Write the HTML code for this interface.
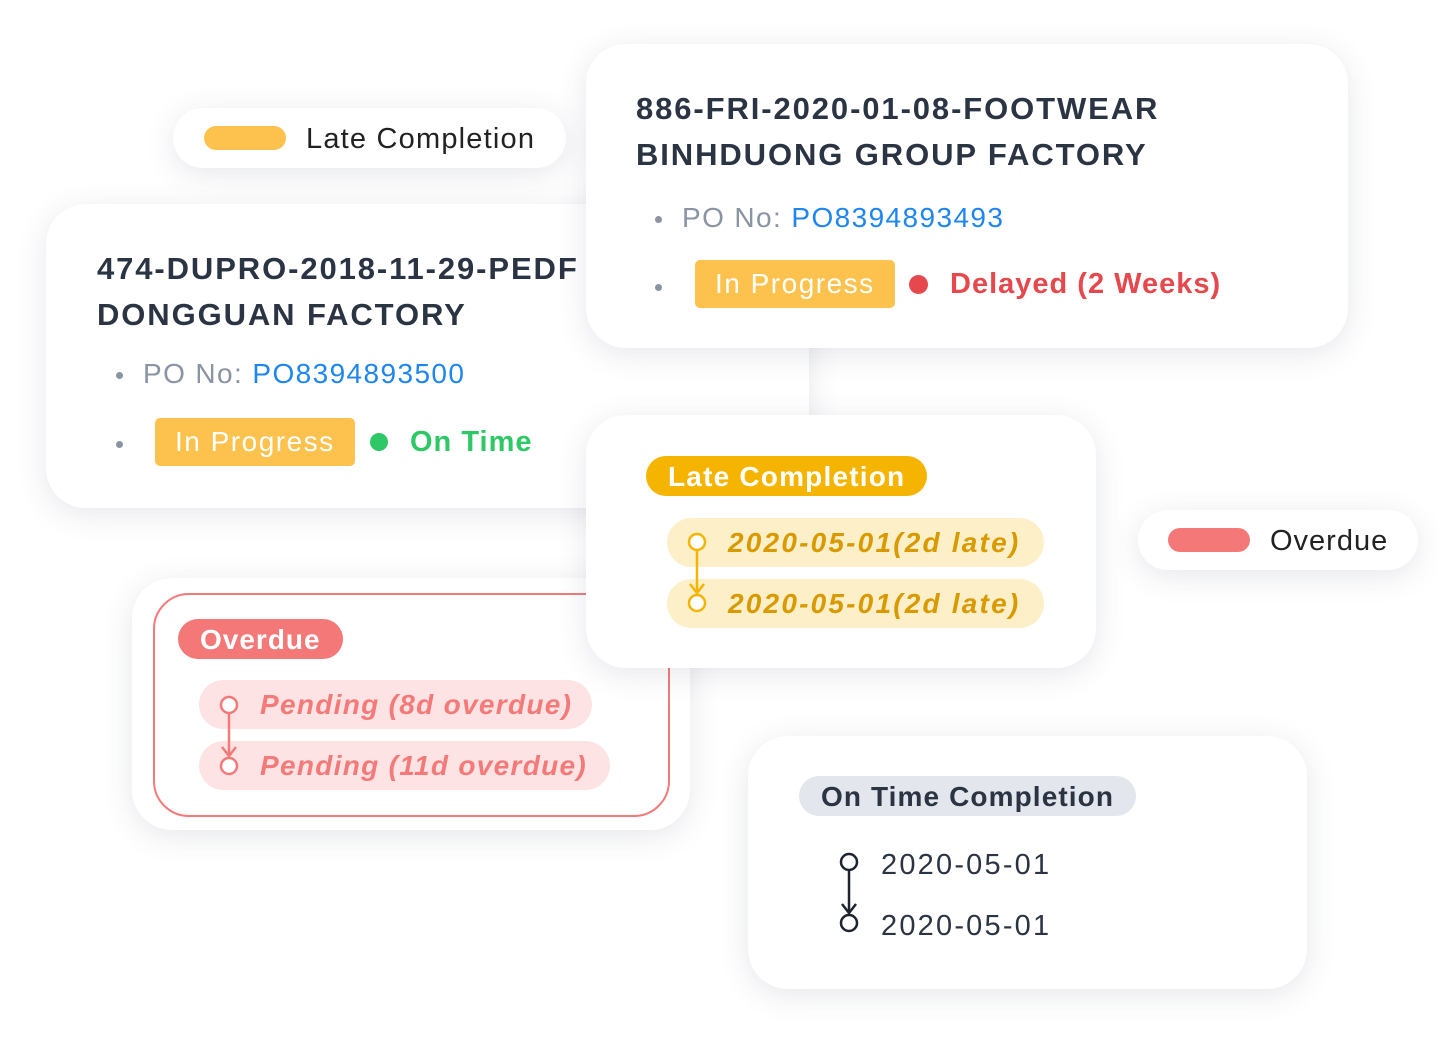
<!DOCTYPE html>
<html><head><style>
body{margin:0;width:1440px;height:1049px;background:#fff;position:relative;overflow:hidden;font-family:"Liberation Sans",sans-serif}
.c{position:absolute;background:#fff;border-radius:40px;box-shadow:0 6px 30px rgba(60,70,100,.13)}
.a{position:absolute;white-space:nowrap}
.t{font-size:31px;font-weight:bold;color:#2b3443;line-height:46px;letter-spacing:1.9px}
.po{font-size:28px;color:#8a94a3;letter-spacing:1.4px}
.po b{font-weight:normal;color:#1f86f0}
.dot{position:absolute;width:7px;height:7px;border-radius:50%;background:#8a94a3}
.ip{position:absolute;background:#fdc24e;color:#fff;font-size:28px;border-radius:5px;height:48px;line-height:48px;padding:0 20px;letter-spacing:1.5px}
.pill{position:absolute;border-radius:25px;height:49px;line-height:49px;font-size:28px;font-style:italic;font-weight:bold;letter-spacing:2.2px}
</style></head><body>

<div class="c" style="left:173px;top:108px;width:393px;height:60px;border-radius:30px"></div>
<div style="position:absolute;left:204px;top:126px;width:82px;height:24px;border-radius:12px;background:#fdc24e"></div>
<div class="a" style="left:306px;top:123px;font-size:29px;color:#222;letter-spacing:1.2px">Late Completion</div>

<div class="c" style="left:46px;top:204px;width:763px;height:304px"></div>
<div class="a t" style="left:97px;top:246px">474-DUPRO-2018-11-29-PEDF<br>DONGGUAN FACTORY</div>
<div class="dot" style="left:116px;top:372px"></div>
<div class="a po" style="left:143px;top:358px">PO No: <b>PO8394893500</b></div>
<div class="dot" style="left:116px;top:441px"></div>
<div class="ip" style="left:155px;top:418px">In Progress</div>
<div style="position:absolute;left:370px;top:433px;width:18px;height:18px;border-radius:50%;background:#2ec866"></div>
<div class="a" style="left:410px;top:426px;font-size:29px;font-weight:bold;color:#2ec866;letter-spacing:1px">On Time</div>

<div class="c" style="left:586px;top:44px;width:762px;height:304px"></div>
<div class="a t" style="left:636px;top:86px">886-FRI-2020-01-08-FOOTWEAR<br>BINHDUONG GROUP FACTORY</div>
<div class="dot" style="left:655px;top:216px"></div>
<div class="a po" style="left:682px;top:202px">PO No: <b>PO8394893493</b></div>
<div class="dot" style="left:655px;top:284px"></div>
<div class="ip" style="left:695px;top:260px">In Progress</div>
<div style="position:absolute;left:909px;top:275px;width:19px;height:19px;border-radius:50%;background:#e5484d"></div>
<div class="a" style="left:950px;top:268px;font-size:29px;font-weight:bold;color:#e5484d;letter-spacing:1px">Delayed (2 Weeks)</div>

<div class="c" style="left:132px;top:578px;width:558px;height:252px"></div>
<div style="position:absolute;left:153px;top:593px;width:513px;height:220px;border:2px solid #f47a7a;border-radius:36px"></div>
<div class="a" style="left:178px;top:619px;height:40px;line-height:42px;padding:0 22px;border-radius:20px;background:#f57878;color:#fff;font-size:28px;font-weight:bold;letter-spacing:1px">Overdue</div>
<div class="pill" style="left:199px;top:680px;width:393px;background:#fde3e3;color:#f47a7a;letter-spacing:1.3px"><span style="margin-left:61px">Pending (8d overdue)</span></div>
<div class="pill" style="left:199px;top:741px;width:411px;background:#fde3e3;color:#f47a7a;letter-spacing:1.3px"><span style="margin-left:61px">Pending (11d overdue)</span></div>
<svg style="position:absolute;left:210px;top:690px" width="40" height="90"><g stroke="#f47a7a" stroke-width="2.5" fill="#fff"><line x1="19" y1="24" x2="19" y2="64"/><polyline points="12,57 19,66 26,57" fill="none"/><circle cx="19" cy="15" r="8"/><circle cx="19" cy="76" r="8"/></g></svg>

<div class="c" style="left:586px;top:415px;width:510px;height:253px"></div>
<div class="a" style="left:646px;top:456px;height:40px;line-height:42px;padding:0 22px;border-radius:20px;background:#f5b400;color:#fff;font-size:28px;font-weight:bold;letter-spacing:1.2px">Late Completion</div>
<div class="pill" style="left:667px;top:518px;width:377px;background:#fdefc8;color:#d99a00"><span style="margin-left:61px">2020-05-01(2d late)</span></div>
<div class="pill" style="left:667px;top:579px;width:377px;background:#fdefc8;color:#d99a00"><span style="margin-left:61px">2020-05-01(2d late)</span></div>
<svg style="position:absolute;left:678px;top:527px" width="40" height="90"><g stroke="#f5b400" stroke-width="2.5" fill="#fff"><line x1="19" y1="24" x2="19" y2="64"/><polyline points="12,57 19,66 26,57" fill="none"/><circle cx="19" cy="15" r="8"/><circle cx="19" cy="76" r="8"/></g></svg>

<div class="c" style="left:1138px;top:510px;width:280px;height:60px;border-radius:30px"></div>
<div style="position:absolute;left:1168px;top:528px;width:82px;height:24px;border-radius:12px;background:#f57878"></div>
<div class="a" style="left:1270px;top:525px;font-size:29px;color:#222;letter-spacing:1px">Overdue</div>

<div class="c" style="left:748px;top:736px;width:559px;height:253px"></div>
<div class="a" style="left:799px;top:776px;height:40px;line-height:42px;padding:0 22px;border-radius:20px;background:#e3e6ec;color:#2b3443;font-size:28px;font-weight:bold;letter-spacing:1.1px">On Time Completion</div>
<div class="a" style="left:881px;top:849px;font-size:29px;color:#2b3443;letter-spacing:2.2px">2020-05-01</div>
<div class="a" style="left:881px;top:910px;font-size:29px;color:#2b3443;letter-spacing:2.2px">2020-05-01</div>
<svg style="position:absolute;left:830px;top:847px" width="40" height="90"><g stroke="#1d2430" stroke-width="2.5" fill="#fff"><line x1="19" y1="24" x2="19" y2="64"/><polyline points="12,57 19,66 26,57" fill="none"/><circle cx="19" cy="15" r="8"/><circle cx="19" cy="76" r="8"/></g></svg>
</body></html>
